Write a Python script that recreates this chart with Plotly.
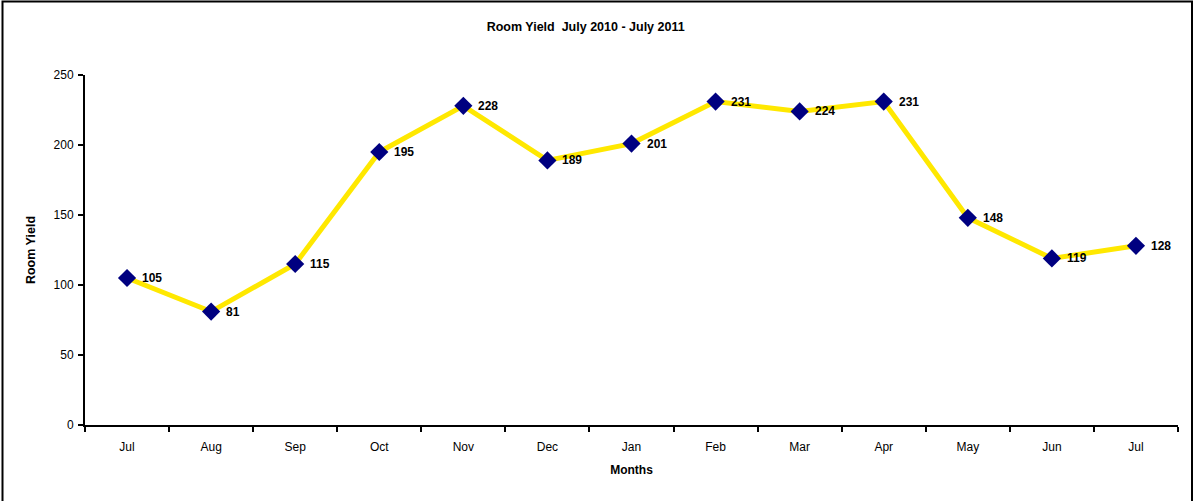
import plotly.graph_objects as go

months = ["Jul", "Aug", "Sep", "Oct", "Nov", "Dec", "Jan", "Feb", "Mar", "Apr", "May", "Jun", "Jul"]
room_yield = [105, 81, 115, 195, 228, 189, 201, 231, 224, 231, 148, 119, 128]
y_ticks = [0, 50, 100, 150, 200, 250]

x_pos = list(range(len(months)))

fig = go.Figure()
fig.add_trace(go.Scatter(
    x=x_pos, y=room_yield,
    mode="lines+markers",
    line=dict(color="#FFE800", width=5),
    marker=dict(symbol="diamond", size=14, color="#000080"),
    cliponaxis=False,
    showlegend=False,
))

annotations = [
    dict(x=xi, y=v, xref="x", yref="y", text="<b>%d</b>" % v, showarrow=False,
         xanchor="left", yanchor="middle", xshift=13,
         font=dict(family="Liberation Sans, Arial", size=12, color="#000000"))
    for xi, v in zip(x_pos, room_yield)
]

fig.update_layout(
    width=1194, height=501,
    margin=dict(l=85, r=16, t=75, b=76),
    paper_bgcolor="white", plot_bgcolor="white",
    font=dict(family="Liberation Sans, Arial", size=12, color="#000000"),
    title=dict(text="<b>Room Yield  July 2010 - July 2011</b>", x=0.4905, xanchor="center",
               y=1 - 27 / 501, yanchor="middle", font=dict(size=12.5)),
    xaxis=dict(
        range=[-0.5, len(months) - 0.5],
        tickvals=x_pos, ticktext=months, ticks="outside", ticklen=10,
        tickcolor="rgba(0,0,0,0)",
        showline=True, linecolor="#000000", linewidth=2,
        showgrid=False, zeroline=False,
        minor=dict(tickvals=[i - 0.5 for i in range(len(months) + 1)], ticks="outside",
                   ticklen=5, tickwidth=2, tickcolor="#000000", showgrid=False),
        tickfont=dict(size=12),
        title=dict(text="<b>Months</b>", font=dict(size=12), standoff=12),
    ),
    yaxis=dict(
        range=[0, 250], tickvals=y_ticks,
        ticks="outside", ticklen=5, tickwidth=2, tickcolor="#000000",
        ticklabelstandoff=2,
        showline=True, linecolor="#000000", linewidth=2,
        showgrid=False, zeroline=False,
        tickfont=dict(size=12),
        title=dict(text="<b>Room Yield</b>", font=dict(size=12.5), standoff=15),
    ),
    annotations=annotations,
    shapes=[dict(type="rect", xref="paper", yref="paper",
                 x0=(2.5 - 85) / 1093, x1=(1192 - 85) / 1093,
                 y0=(425 - 503) / 350, y1=(425 - 1.5) / 350,
                 line=dict(color="#000000", width=2), fillcolor="rgba(0,0,0,0)",
                 layer="below")],
)

fig.write_html("out.html", config={"displayModeBar": False},
               post_script="document.body.style.margin='0';document.body.style.overflow='hidden';")
